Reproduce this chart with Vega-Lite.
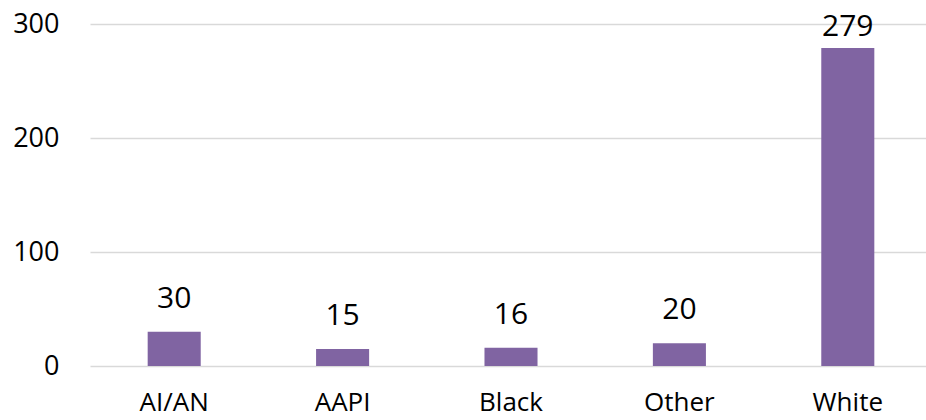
{
  "$schema": "https://vega.github.io/schema/vega-lite/v6.json",
  "autosize": {"type": "none"},
  "padding": {"left": 90, "top": 24, "right": 0, "bottom": 54},
  "width": 842,
  "height": 342,
  "background": "white",
  "config": {
    "view": {"stroke": null},
    "font": "Open Sans",
    "axis": {"labelFont": "Open Sans", "labelColor": "#000000", "labelFontSize": 27}
  },
  "data": {
    "values": [
      {"group": "AI/AN", "count": 30},
      {"group": "AAPI", "count": 15},
      {"group": "Black", "count": 16},
      {"group": "Other", "count": 20},
      {"group": "White", "count": 279}
    ]
  },
  "encoding": {
    "x": {
      "field": "group",
      "type": "nominal",
      "sort": null,
      "scale": {"paddingInner": 0.685, "paddingOuter": 0.3425},
      "axis": {"title": null, "labelAngle": 0, "ticks": false, "domain": false, "labelPadding": 23, "labelBaseline": "top", "labelFontSize": 26}
    },
    "y": {
      "field": "count",
      "type": "quantitative",
      "scale": {"domain": [0, 300], "nice": false},
      "axis": {"title": null, "values": [0, 100, 200, 300], "ticks": false, "domain": false, "labelPadding": 31, "gridColor": "#d9d9d9", "gridWidth": 1.5}
    }
  },
  "layer": [
    {"mark": {"type": "bar", "color": "#8064A2"}},
    {
      "transform": [{"filter": "datum.count < 200"}],
      "mark": {"type": "text", "baseline": "alphabetic", "dy": -24, "fontSize": 30, "font": "Open Sans", "color": "#000000"},
      "encoding": {"text": {"field": "count"}}
    },
    {
      "transform": [{"filter": "datum.count >= 200"}],
      "mark": {"type": "text", "baseline": "alphabetic", "dy": -12, "fontSize": 30, "font": "Open Sans", "color": "#000000"},
      "encoding": {"text": {"field": "count"}}
    }
  ]
}
